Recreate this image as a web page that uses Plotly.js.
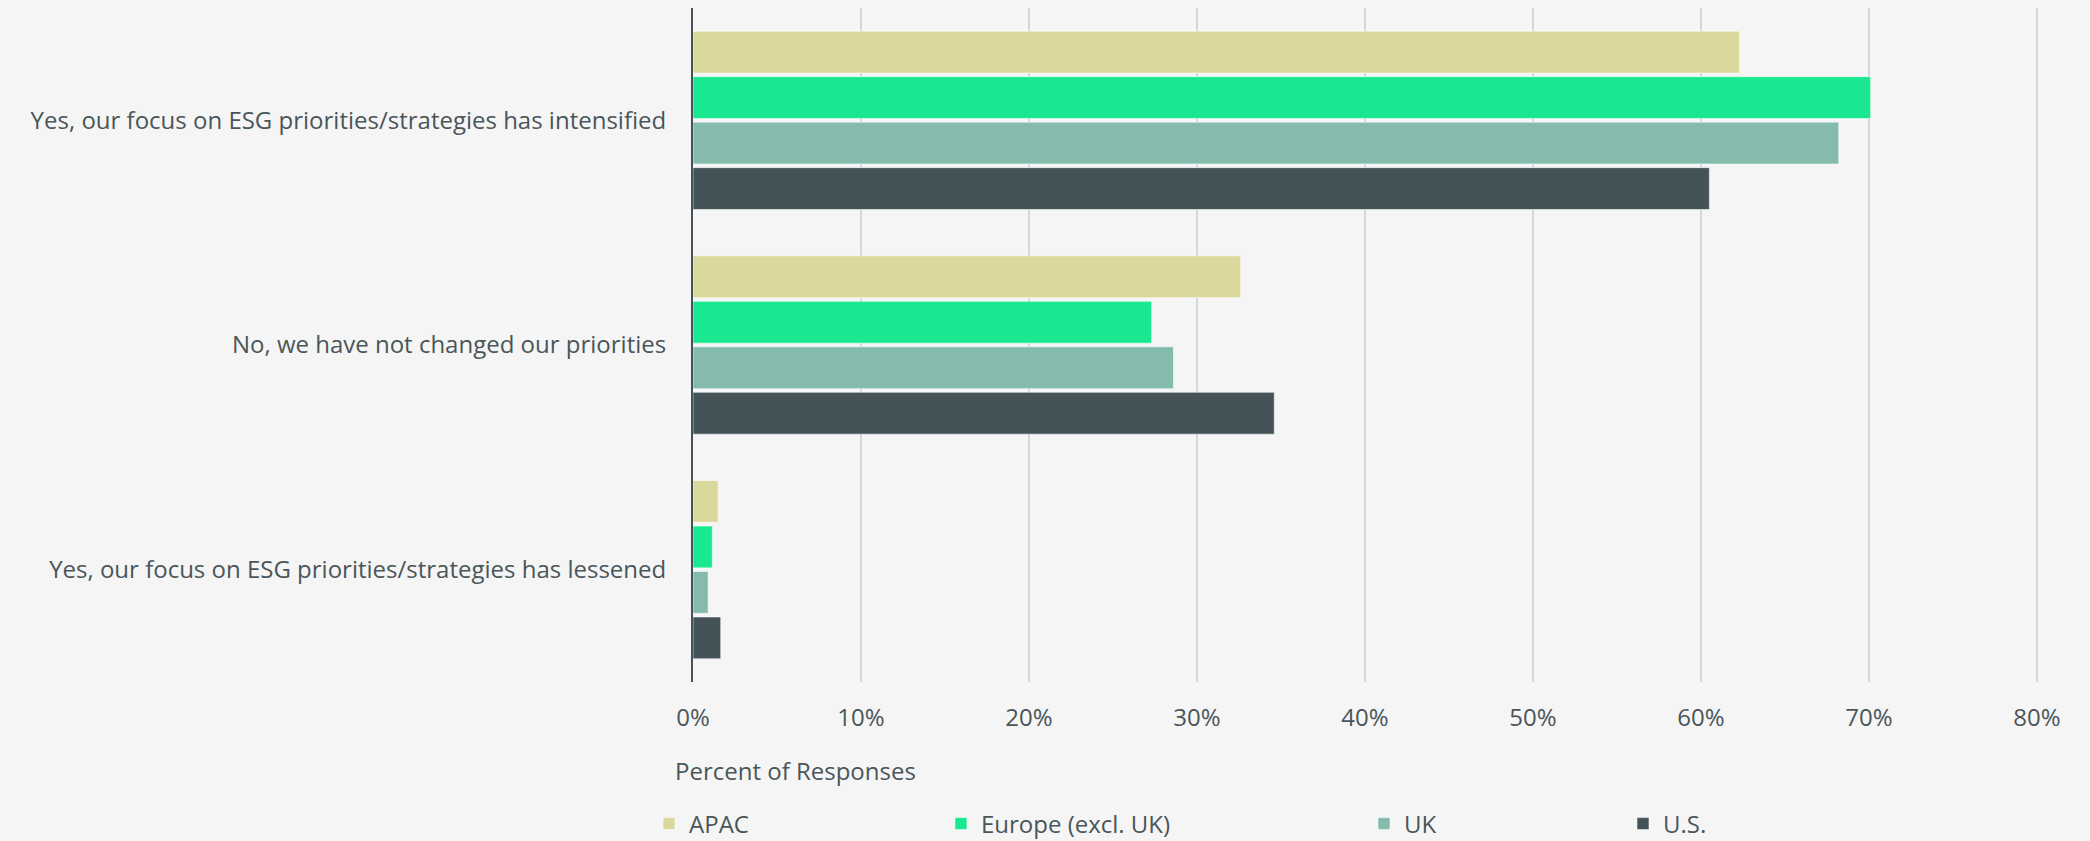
<!DOCTYPE html>
<html>
<head>
<meta charset="utf-8">
<script src="https://cdn.plot.ly/plotly-3.0.1.min.js"></script>
<style>
html,body{margin:0;padding:0;background:#f5f5f5;}
#chart{width:2090px;height:841px;}
</style>
</head>
<body>
<div id="chart"></div>
<script>
const categories = [
  "Yes, our focus on ESG priorities/strategies has intensified",
  "No, we have not changed our priorities",
  "Yes, our focus on ESG priorities/strategies has lessened"
];
const seriesNames = ["APAC", "Europe (excl. UK)", "UK", "U.S."];
const apac = [62.3, 32.6, 1.5];
const europe = [70.1, 27.3, 1.15];
const uk = [68.2, 28.6, 0.9];
const us = [60.5, 34.6, 1.65];
const colors = ["#dbd89e", "#19e890", "#84bbad", "#435357"];
const tickVals = [0, 10, 20, 30, 40, 50, 60, 70, 80];
const tickText = ["0%", "10%", "20%", "30%", "40%", "50%", "60%", "70%", "80%"];

const textColor = "#4a5659";
const fontFamily = "'Open Sans', Roboto, sans-serif";
const allSeries = [apac, europe, uk, us];
const legendIds = ["legend", "legend2", "legend3", "legend4"];
const legendX = [-0.0326, 0.1838, 0.4974, 0.6894];

const traces = allSeries.map((vals, i) => ({
  type: "bar",
  orientation: "h",
  name: seriesNames[i],
  x: vals,
  y: categories,
  marker: {color: colors[i], line: {color: "rgba(255,255,255,0.55)", width: 1}},
  legend: legendIds[i],
  hoverinfo: "x+name"
}));

const layout = {
  width: 2090,
  height: 841,
  paper_bgcolor: "#f5f5f5",
  plot_bgcolor: "#f5f5f5",
  font: {family: fontFamily, size: 24, color: textColor},
  margin: {l: 693, r: 48, t: 8, b: 159},
  barmode: "group",
  bargap: 0.19,
  bargroupgap: 0.08,
  showlegend: true,
  xaxis: {
    range: [0, 80.3],
    tickvals: tickVals,
    ticktext: tickText,
    showgrid: true,
    gridcolor: "#d3d8d8",
    gridwidth: 1.5,
    zeroline: false,
    showline: false,
    ticks: "",
    ticklabelstandoff: 19,
    automargin: false,
    tickfont: {size: 24, color: textColor}
  },
  yaxis: {
    autorange: "reversed",
    type: "category",
    showline: true,
    linecolor: "#435357",
    linewidth: 2,
    showgrid: false,
    zeroline: false,
    ticks: "",
    ticklabelstandoff: 20,
    automargin: false,
    tickfont: {size: 24, color: textColor}
  },
  annotations: [{
    text: "Percent of Responses",
    xref: "paper", yref: "paper",
    x: 0, y: -0.1306,
    xanchor: "left", yanchor: "middle",
    xshift: -20,
    showarrow: false,
    font: {size: 24, color: textColor}
  }]
};
legendIds.forEach((id, i) => {
  layout[id] = {
    orientation: "h",
    x: legendX[i],
    xanchor: "left",
    xref: "paper",
    y: 0.0202,
    yref: "container",
    yanchor: "middle",
    bgcolor: "rgba(0,0,0,0)",
    borderwidth: 0,
    itemclick: false,
    font: {size: 24, color: textColor}
  };
});

Plotly.newPlot("chart", traces, layout, {displayModeBar: false, staticPlot: true});
</script>
</body>
</html>
